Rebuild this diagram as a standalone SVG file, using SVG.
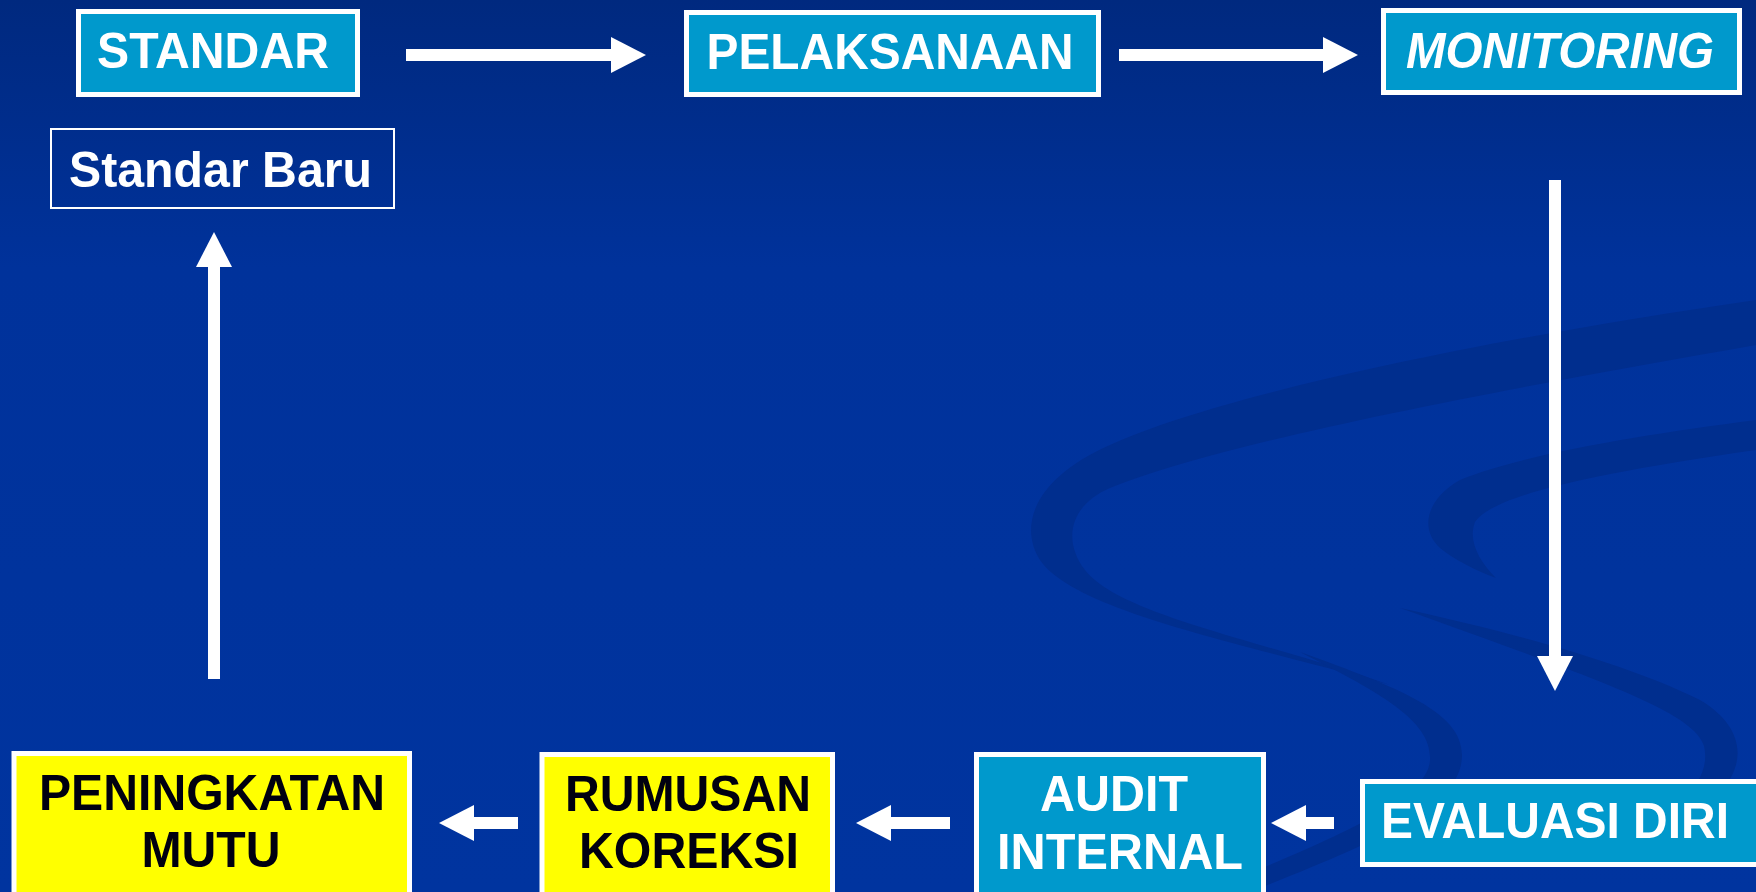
<svg xmlns="http://www.w3.org/2000/svg" width="1756" height="892" viewBox="0 0 1756 892">
<defs>
<linearGradient id="bg" x1="0" y1="0" x2="0" y2="1">
<stop offset="0" stop-color="#00297F"/>
<stop offset="0.3" stop-color="#00329B"/>
<stop offset="1" stop-color="#00349F"/>
</linearGradient>
<marker id="head" markerUnits="userSpaceOnUse" markerWidth="36" markerHeight="36" viewBox="0 0 36 36" refX="0" refY="18" orient="auto">
<path d="M0,0 L35,18 L0,36 Z" fill="#FFFFFF"/>
</marker>
</defs>
<style>
.box{fill:#0099CC;stroke:#FFFFFF;stroke-width:5}
.ybox{fill:#FFFF00;stroke:#FFFFFF;stroke-width:5}
.obox{fill:none;stroke:#FFFFFF;stroke-width:2}
.t{font-family:"Liberation Sans",Arial,sans-serif;font-weight:bold;font-size:50px;fill:#FFFFFF;text-anchor:middle}
.tb{fill:#000010}
.it{font-style:italic}
.rib{fill:#002E8E}
.conn line{stroke:#FFFFFF;stroke-width:12;marker-end:url(#head)}
</style>
<rect x="0" y="0" width="1756" height="892" fill="url(#bg)"/>
<g id="background-swooshes">
<path class="rib" d="M1756,300 C1480,340 1220,395 1110,445 C1035,478 1018,525 1040,560 C1075,612 1250,645 1390,685 C1260,640 1120,615 1085,570 C1062,540 1070,505 1110,488 C1230,440 1500,390 1756,345 Z"/>
<path class="rib" d="M1300,652 C1400,688 1462,712 1462,755 C1462,800 1400,832 1280,880 L1250,892 L1205,892 C1335,838 1428,800 1430,760 C1432,722 1385,695 1300,652 Z"/>
<path class="rib" d="M1756,420 C1640,435 1520,455 1460,480 C1425,500 1420,530 1440,548 C1455,560 1475,570 1496,578 C1478,560 1468,540 1475,522 C1490,500 1560,478 1756,450 Z"/>
<path class="rib" d="M1400,608 C1500,630 1620,660 1700,700 C1742,725 1748,760 1722,790 C1702,815 1662,830 1620,845 C1680,810 1712,780 1704,746 C1694,712 1600,680 1400,608 Z"/>
</g>
<g id="node-standar">
<rect class="box" x="78.5" y="11.5" width="279" height="83"/>
<text class="t" x="213" y="68" textLength="232" lengthAdjust="spacingAndGlyphs">STANDAR</text>
</g>
<g id="node-pelaksanaan">
<rect class="box" x="686.5" y="12.5" width="412" height="82"/>
<text class="t" x="890" y="69" textLength="367" lengthAdjust="spacingAndGlyphs">PELAKSANAAN</text>
</g>
<g id="node-monitoring">
<rect class="box" x="1383.5" y="10.5" width="356" height="82"/>
<text class="t it" x="1560" y="68" textLength="308" lengthAdjust="spacingAndGlyphs">MONITORING</text>
</g>
<g id="node-standar-baru">
<rect class="obox" x="51" y="129" width="343" height="79"/>
<text class="t" x="220.5" y="187" textLength="303" lengthAdjust="spacingAndGlyphs">Standar Baru</text>
</g>
<g id="node-evaluasi-diri">
<rect class="box" x="1362.5" y="781.5" width="400" height="83"/>
<text class="t" x="1555" y="838" textLength="348" lengthAdjust="spacingAndGlyphs">EVALUASI DIRI</text>
</g>
<g id="node-audit-internal">
<rect class="box" x="976.5" y="754.5" width="287" height="160"/>
<text class="t" x="1114" y="811" textLength="148" lengthAdjust="spacingAndGlyphs">AUDIT</text>
<text class="t" x="1120" y="869" textLength="246" lengthAdjust="spacingAndGlyphs">INTERNAL</text>
</g>
<g id="node-rumusan-koreksi">
<rect class="ybox" x="542" y="754.5" width="290.5" height="160"/>
<text class="t tb" x="688" y="811" textLength="246" lengthAdjust="spacingAndGlyphs">RUMUSAN</text>
<text class="t tb" x="689" y="868" textLength="220" lengthAdjust="spacingAndGlyphs">KOREKSI</text>
</g>
<g id="node-peningkatan-mutu">
<rect class="ybox" x="14" y="753.5" width="395.5" height="160"/>
<text class="t tb" x="212" y="810" textLength="346" lengthAdjust="spacingAndGlyphs">PENINGKATAN</text>
<text class="t tb" x="211" y="867" textLength="139" lengthAdjust="spacingAndGlyphs">MUTU</text>
</g>
<g id="connectors" class="conn">
<line x1="406" y1="55" x2="611" y2="55"/>
<line x1="1119" y1="55" x2="1323" y2="55"/>
<line x1="1555" y1="180" x2="1555" y2="656"/>
<line x1="1334" y1="823" x2="1306" y2="823"/>
<line x1="950" y1="823" x2="891" y2="823"/>
<line x1="518" y1="823" x2="474" y2="823"/>
<line x1="214" y1="679" x2="214" y2="267"/>
</g>
</svg>
